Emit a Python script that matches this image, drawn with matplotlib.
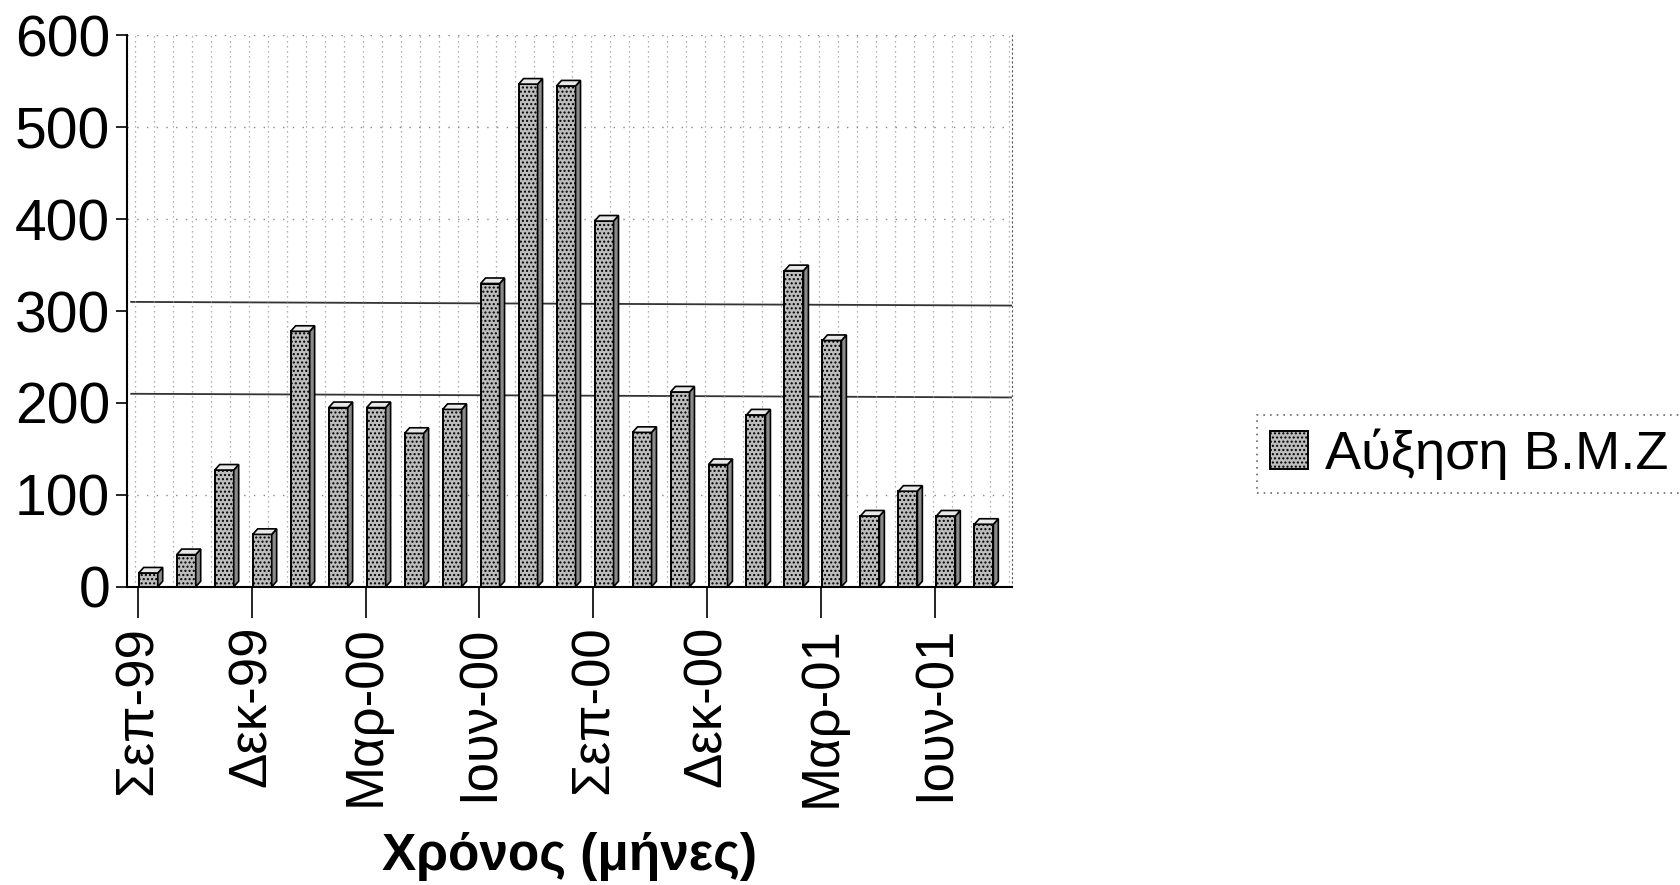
import numpy as np
import matplotlib.pyplot as plt
from matplotlib.patches import Polygon

months = ["Σεπ-99", "Οκτ-99", "Νοε-99", "Δεκ-99", "Ιαν-00", "Φεβ-00", "Μαρ-00", "Απρ-00",
          "Μαϊ-00", "Ιουν-00", "Ιουλ-00", "Αυγ-00", "Σεπ-00", "Οκτ-00", "Νοε-00", "Δεκ-00",
          "Ιαν-01", "Φεβ-01", "Μαρ-01", "Απρ-01", "Μαϊ-01", "Ιουν-01", "Ιουλ-01"]
values = [15, 35, 127, 57, 278, 195, 195, 167, 193, 330, 547, 545, 398,
          168, 212, 133, 187, 344, 268, 77, 104, 77, 68]
yticks = [0, 100, 200, 300, 400, 500, 600]
series_name = "Αύξηση Β.Μ.Ζ"
xlabel = "Χρόνος (μήνες)"

plt.rcParams['font.family'] = ['Liberation Sans', 'DejaVu Sans']

fig = plt.figure(figsize=(16.8, 8.85), dpi=100)
ax = fig.add_axes([0.0756, 0.337, 0.527, 0.623])

x = np.arange(len(values))
w = 0.5
depth_x = 0.13
depth_y = 6

# back wall grid
for v in yticks[1:]:
    if v in (200, 300):
        ax.plot([-0.45, 22.75], [v + 10, v + 6], color='#333333', lw=1.3, zorder=1)
    else:
        ax.axhline(v, color='#888888', lw=1.0, ls=(0, (1, 6)), zorder=1)
for xv in np.arange(-0.35, 22.7, 0.5):
    ax.axvline(xv, color='#999999', lw=0.9, ls=(0, (1, 3)), zorder=1)

bars = ax.bar(x, values, width=w, color='#bdbdbd', edgecolor='black', linewidth=1.4,
              hatch='....', zorder=3)
for b in bars:
    x0 = b.get_x()
    x1 = x0 + b.get_width()
    h = b.get_height()
    side = Polygon([[x1, 0], [x1 + depth_x, depth_y], [x1 + depth_x, h + depth_y], [x1, h]],
                   closed=True, facecolor='#8a8a8a', edgecolor='black', lw=1.2, zorder=3)
    top = Polygon([[x0, h], [x0 + depth_x, h + depth_y], [x1 + depth_x, h + depth_y], [x1, h]],
                  closed=True, facecolor='#e8e8e8', edgecolor='black', lw=1.2, zorder=3)
    ax.add_patch(side)
    ax.add_patch(top)

ax.set_xlim(-0.56, 22.75)
ax.set_ylim(0, 600)
ax.set_yticks(yticks)
ax.set_yticklabels([str(v) for v in yticks], fontsize=41)
tick_idx = list(range(0, len(months), 3))
ax.set_xticks([i - 0.28 for i in tick_idx])
ax.set_xticklabels([months[i] for i in tick_idx], rotation=90, fontsize=38)
ax.tick_params(axis='x', length=22, width=1.2, direction='out', pad=6)
ax.tick_params(axis='y', length=8, width=1.2, direction='out', pad=4)
ax.set_xlabel(xlabel, fontsize=37, fontweight='bold', labelpad=18)

ax.spines['top'].set_visible(False)
ax.spines['right'].set_linestyle((0, (1, 3)))
ax.spines['right'].set_color('#555555')
ax.spines['left'].set_linewidth(1.5)
ax.spines['bottom'].set_linewidth(1.5)

leg = fig.legend([bars], [series_name], loc='center left', bbox_to_anchor=(0.732, 0.487),
                 fontsize=39, frameon=True, fancybox=False, handlelength=0.7,
                 handleheight=0.7, handletextpad=0.3, borderpad=0.25)
leg.get_frame().set_edgecolor('#444444')
leg.get_frame().set_linestyle((0, (1, 3)))
leg.get_frame().set_linewidth(1.2)

fig.savefig("out.png", dpi=100)
